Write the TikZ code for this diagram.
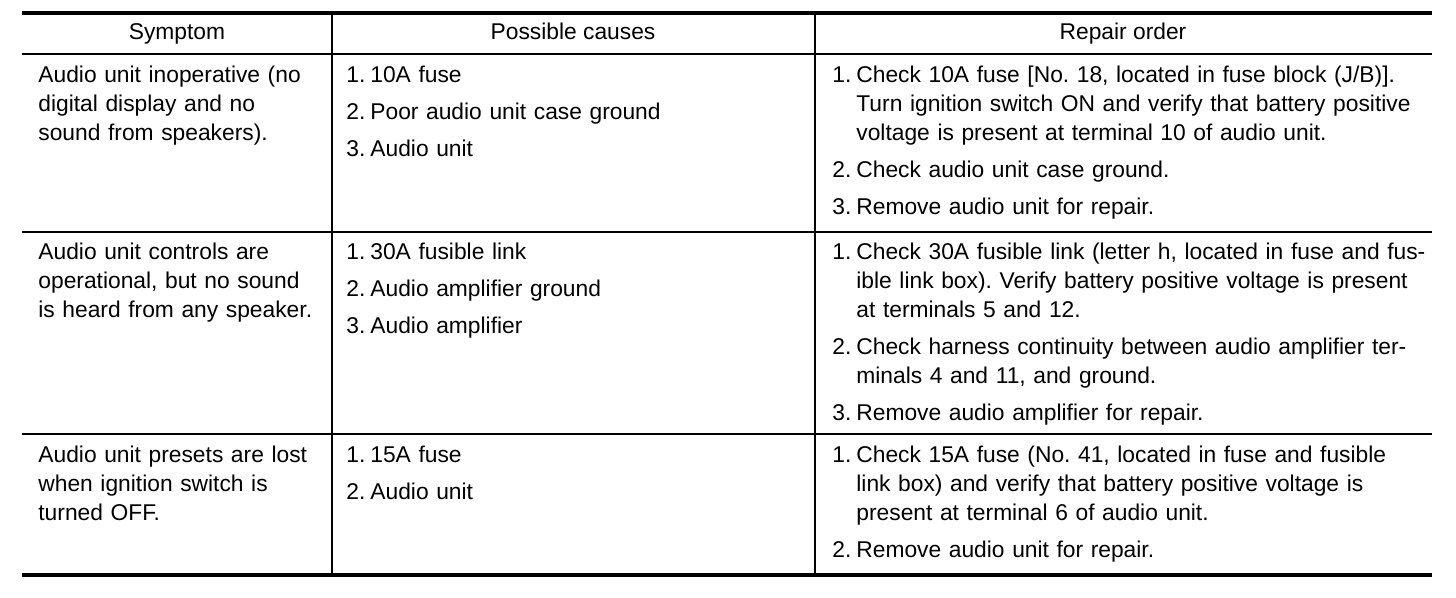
\documentclass[tikz,border=0pt]{standalone}
\usepackage{fontspec}
\setmainfont{Liberation Sans}
\usepackage{tikz}
\usetikzlibrary{positioning}
\frenchspacing
\newlength\numw
\setlength\numw{12pt}
\newcommand\itm[1]{\makebox[\numw][l]{#1.}\ignorespaces}
\newcommand\cnt{\hspace*{\numw}}

\begin{document}
\begin{tikzpicture}[x=0.5pt, y=-0.5pt,
        cell/.style={anchor=base west, inner sep=0pt, text width=#1, align=left,
            font=\fontsize{11.4}{14.5}\selectfont},
        head/.style={anchor=base, inner sep=0pt, font=\fontsize{11.4}{14.5}\selectfont},
        toprule/.style={line width=2.4pt},
        gridline/.style={line width=1pt}]
        \useasboundingbox (0,0) rectangle (1456,598);
        \coordinate (a) at (22,13); \coordinate (b) at (1432,13);
        \coordinate (c) at (1432,575); \coordinate (d) at (22,575);
        \draw[toprule] (a)--(b);
        \draw[toprule] (d)--(c);
        \foreach \y in {54,232,434} \draw[gridline] (22,\y)--(1432,\y);
        \foreach \x in {332,815} \draw[gridline] (\x,13)--(\x,575);
        \node[head] (symptom) at (177,40) {Symptom};
        \node[head] (causes) at (573,40) {Possible causes};
        \node[head] (repair) at (1123,40) {Repair order};
        \node[cell=150pt] (s1) at (38,83) {Audio unit inoperative (no\\ digital display and no\\ sound from speakers).};
        \node[cell=220pt] (c1) at (346,83) {\itm{1} 10A fuse\\[4pt] \itm{2} Poor audio unit case ground\\[4pt] \itm{3} Audio unit};
        \node[cell=320pt] (r1) at (832,83) {\itm{1} Check 10A fuse [No. 18, located in fuse block (J/B)].\\
            \cnt Turn ignition switch ON and verify that battery positive\\
            \cnt voltage is present at terminal 10 of audio unit.\\[4pt]
            \itm{2} Check audio unit case ground.\\[4pt]
            \itm{3} Remove audio unit for repair.};
        \node[cell=150pt] (s2) at (38,260) {Audio unit controls are\\ operational, but no sound\\ is heard from any speaker.};
        \node[cell=220pt] (c2) at (346,260) {\itm{1} 30A fusible link\\[4pt] \itm{2} Audio amplifier ground\\[4pt] \itm{3} Audio amplifier};
        \node[cell=320pt] (r2) at (832,260) {\itm{1} Check 30A fusible link (letter h, located in fuse and fus-\\
            \cnt ible link box). Verify battery positive voltage is present\\
            \cnt at terminals 5 and 12.\\[4pt]
            \itm{2} Check harness continuity between audio amplifier ter-\\
            \cnt minals 4 and 11, and ground.\\[4pt]
            \itm{3} Remove audio amplifier for repair.};
        \node[cell=150pt] (s3) at (38,462) {Audio unit presets are lost\\ when ignition switch is\\ turned OFF.};
        \node[cell=220pt] (c3) at (346,462) {\itm{1} 15A fuse\\[4pt] \itm{2} Audio unit};
        \node[cell=320pt] (r3) at (832,462) {\itm{1} Check 15A fuse (No. 41, located in fuse and fusible\\
            \cnt link box) and verify that battery positive voltage is\\
            \cnt present at terminal 6 of audio unit.\\[4pt]
            \itm{2} Remove audio unit for repair.};
    \end{tikzpicture}
\end{document}
